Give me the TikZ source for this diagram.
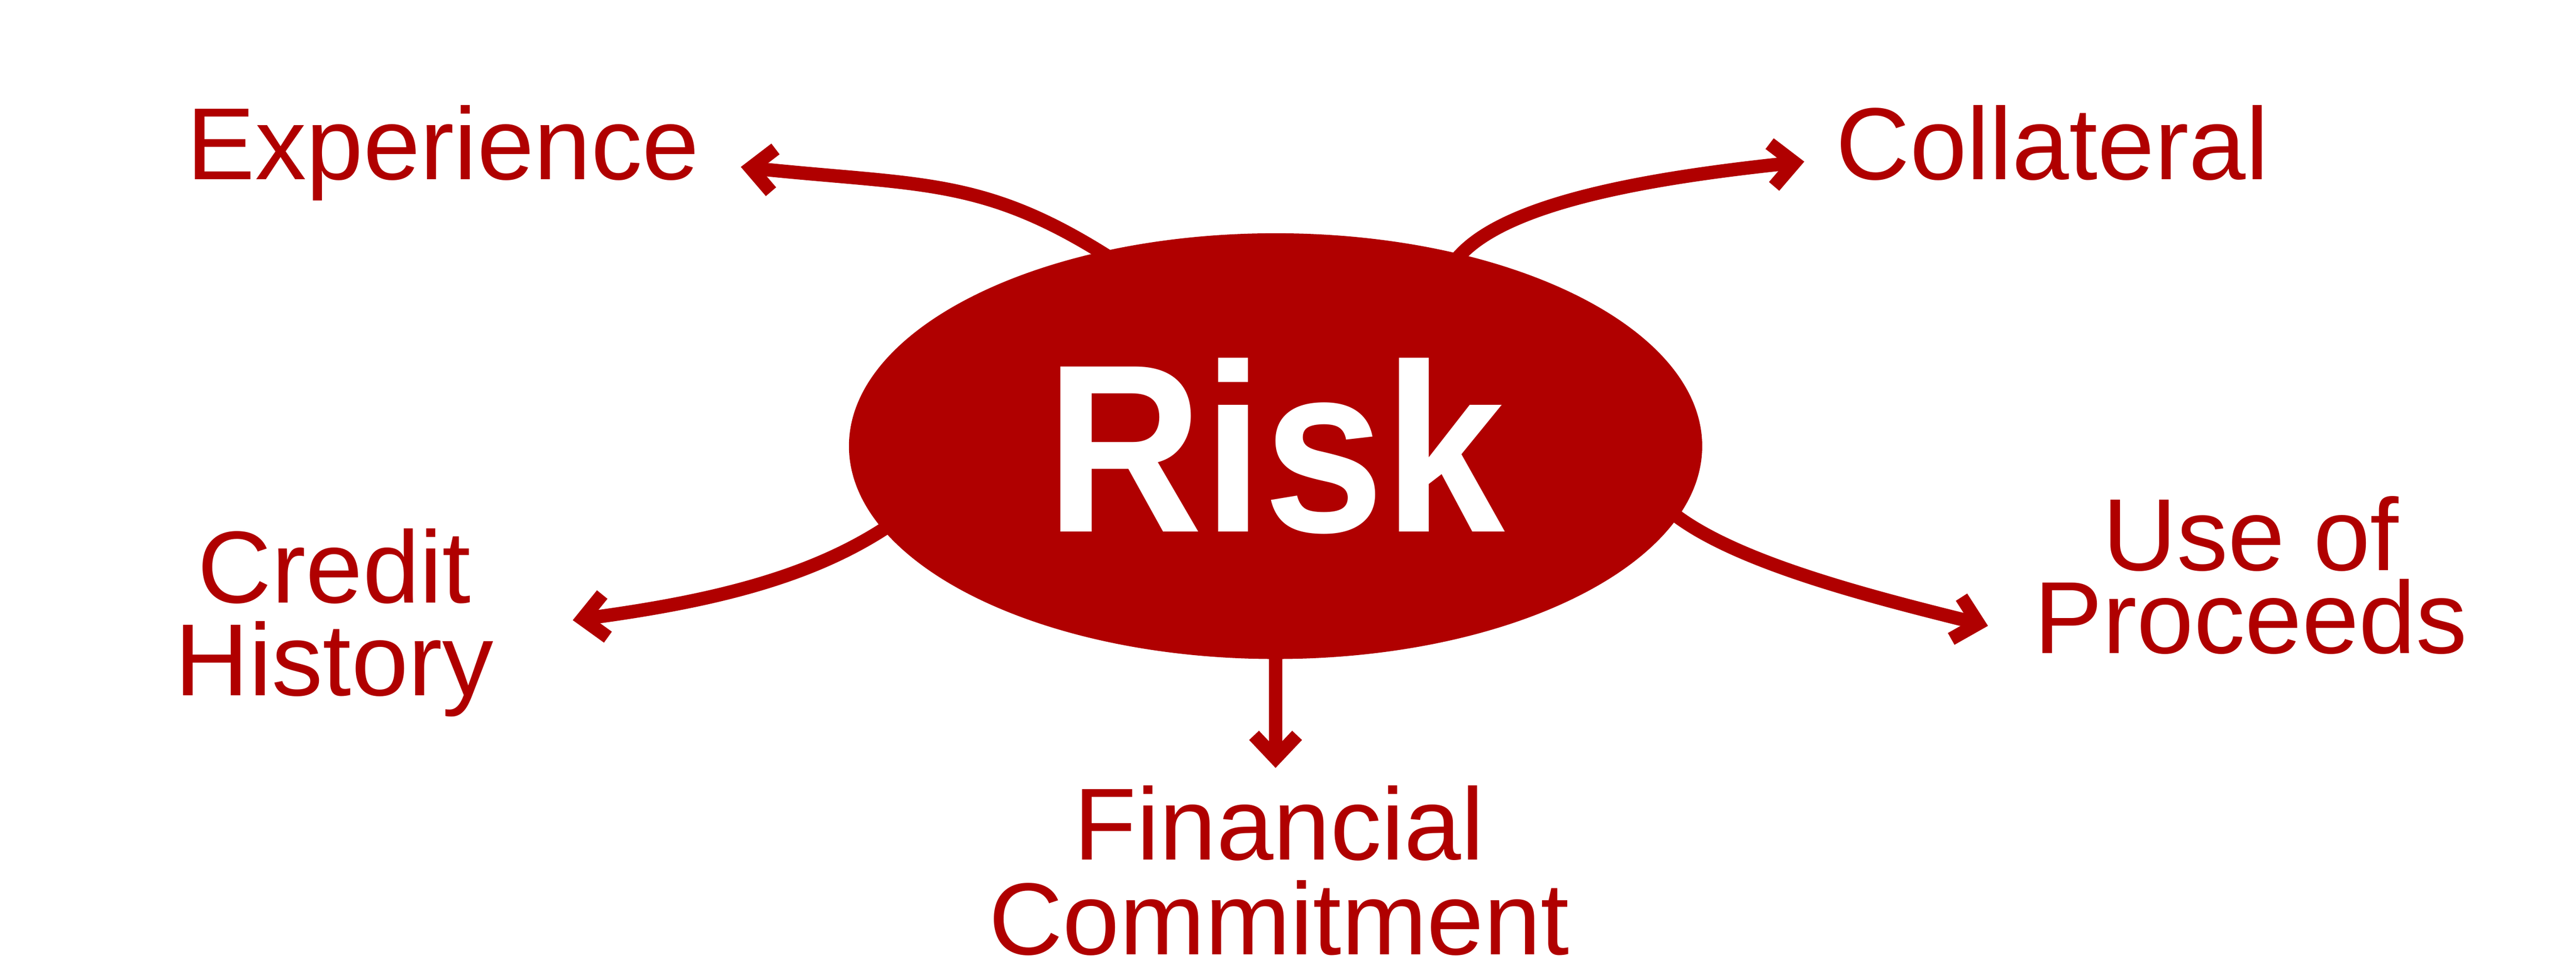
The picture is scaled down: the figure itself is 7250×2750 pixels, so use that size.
\documentclass[tikz,border=0pt]{standalone}
\usepackage{fontspec}
\setmainfont{Liberation Sans}
\newfontfamily\riskfont[FakeStretch=0.905]{Liberation Sans}
\usetikzlibrary{arrows.meta,shapes.geometric,backgrounds,calc}
\definecolor{riskred}{RGB}{176,0,0}
\begin{document}
\begin{tikzpicture}[x=0.01cm,y=-0.01cm,
  lbl/.style={text=riskred, font=\fontsize{82pt}{2.61cm}\selectfont, align=center, anchor=base, inner sep=0pt},
  conn/.style={draw=riskred, line width=0.38cm, -{Straight Barb[length=0.64cm,width=1.21cm,sharp]}},
  hub/.style={ellipse, fill=riskred, minimum width=24cm, minimum height=11.98cm, inner sep=0pt, outer sep=0pt, text=white, font=\riskfont\bfseries\fontsize{192pt}{192pt}\selectfont}]
\useasboundingbox (0,0) rectangle (7250,2750);
\node[hub] (risk) at (3590,1256) {Risk};
\node[lbl] (exp) at (1247,506) {Experience};
\node[lbl] (col) at (5776,506) {Collateral};
\node[lbl] (cred) at (941,1958) {Credit\\History};
\node[lbl, font=\fontsize{82pt}{2.34cm}\selectfont] (use) at (6335,1840) {Use of\\Proceeds};
\node[lbl, font=\fontsize{82pt}{2.66cm}\selectfont] (fin) at (3600,2687) {Financial\\Commitment};
\coordinate (expT) at (2085,470);
\coordinate (colT) at (5078,455);
\coordinate (credT) at (1612,1746);
\coordinate (useT) at (5595,1762);
\coordinate (finT) at (3590,2162);
\begin{scope}[on background layer]
\fill[white] (0,0) rectangle (7250,2750);
\draw[conn] ($(risk.132)+(68,42)$) -- (risk.132) .. controls +(-340,-210) and +(497,52) .. (expT);
\draw[conn] ($(risk.46)+(-55,58)$) -- (risk.46) .. controls +(137,-145) and +(-448,47) .. (colT);
\draw[conn] ($(risk.192)+(67,-43)$) -- (risk.192) .. controls +(-211,135) and +(396,-53) .. (credT);
\draw[conn] ($(risk.350)+(-65,-47)$) -- (risk.350) .. controls +(178,130) and +(-340,-84) .. (useT);
\draw[conn] ($(risk.south)+(0,-60)$) -- (finT);
\end{scope}
\end{tikzpicture}
\end{document}
